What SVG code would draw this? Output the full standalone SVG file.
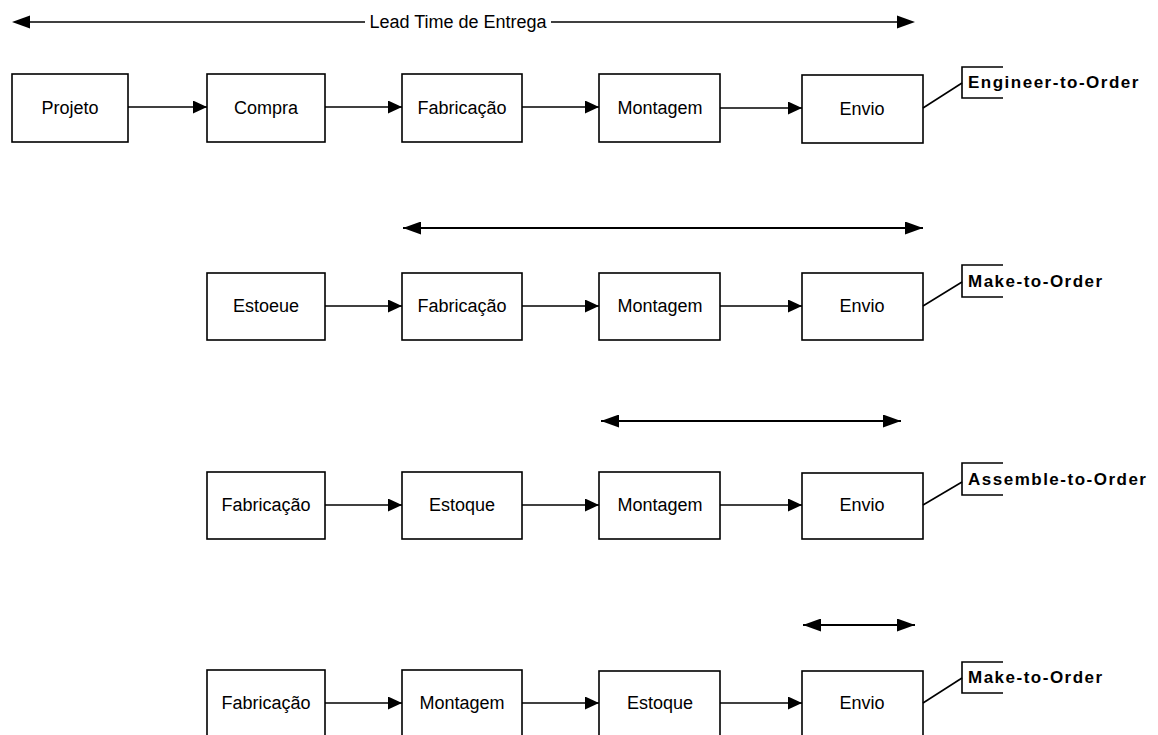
<svg xmlns="http://www.w3.org/2000/svg" width="1158" height="735" viewBox="0 0 1158 735">
  <style>
    .box { fill: #ffffff; stroke: #000000; stroke-width: 1.6; }
    .lbl { font-family: "Liberation Sans", Arial, sans-serif; font-size: 18px; fill: #000000; text-anchor: middle; }
    .tag { font-family: "Liberation Sans", Arial, sans-serif; font-size: 17px; font-weight: bold; letter-spacing: 1.5px; fill: #000000; }
    .ln { fill: none; stroke: #000000; stroke-width: 1.6; }
    .tip { fill: #000000; stroke: none; }
    .flow { fill: none; stroke: #000000; stroke-width: 1.6; marker-end: url(#head); }
    .span { fill: none; stroke: #000000; stroke-width: 1.8; marker-start: url(#bigStart); marker-end: url(#bigEnd); }
  </style>
  <defs>
    <marker id="head" markerUnits="userSpaceOnUse" markerWidth="15" markerHeight="13" refX="14" refY="6.5" orient="auto">
      <path d="M0,0 L14,6.5 L0,13 Z" fill="#000"/>
    </marker>
    <marker id="bigEnd" markerUnits="userSpaceOnUse" markerWidth="19" markerHeight="13" refX="18" refY="6.5" orient="auto">
      <path d="M0,0 L18,6.5 L0,13 Z" fill="#000"/>
    </marker>
    <marker id="bigStart" markerUnits="userSpaceOnUse" markerWidth="19" markerHeight="13" refX="0" refY="6.5" orient="auto">
      <path d="M18,0 L0,6.5 L18,13 Z" fill="#000"/>
    </marker>
  </defs>

  <rect width="1158" height="735" fill="#ffffff"/>

  <!-- lead-time spans -->
  <g id="spans">
    <line class="ln" x1="28" y1="22" x2="365" y2="22"/>
    <path class="tip" d="M12,22 L30,15.5 L30,28.5 Z"/>
    <line class="ln" x1="551" y1="22" x2="899" y2="22"/>
    <path class="tip" d="M915,22 L897,15.5 L897,28.5 Z"/>
    <text class="lbl" x="458" y="28">Lead Time de Entrega</text>
    <line class="span" x1="403" y1="228" x2="923" y2="228"/>
    <line class="span" x1="601" y1="421" x2="901" y2="421"/>
    <line class="span" x1="803" y1="625" x2="915" y2="625"/>
  </g>

  <!-- row 1: Engineer-to-Order -->
  <g id="r1-projeto"><rect class="box" x="12" y="74" width="116" height="68"/><text class="lbl" x="70" y="114">Projeto</text></g>
  <g id="r1-compra"><rect class="box" x="207" y="74" width="118" height="68"/><text class="lbl" x="266" y="114">Compra</text></g>
  <g id="r1-fabricacao"><rect class="box" x="402" y="74" width="120" height="68"/><text class="lbl" x="462" y="114">Fabricação</text></g>
  <g id="r1-montagem"><rect class="box" x="599" y="74" width="121" height="68"/><text class="lbl" x="660" y="114">Montagem</text></g>
  <g id="r1-envio"><rect class="box" x="802" y="75" width="121" height="68"/><text class="lbl" x="862" y="115">Envio</text></g>
  <g id="r1-tag">
    <path class="ln" d="M1003,67 L962,67 L962,98 L1003,98"/>
    <text class="tag" x="968" y="88">Engineer-to-Order</text>
  </g>

  <!-- row 2: Make-to-Order -->
  <g id="r2-estoque"><rect class="box" x="207" y="273" width="118" height="67"/><text class="lbl" x="266" y="312">Estoeue</text></g>
  <g id="r2-fabricacao"><rect class="box" x="402" y="273" width="120" height="67"/><text class="lbl" x="462" y="312">Fabricação</text></g>
  <g id="r2-montagem"><rect class="box" x="599" y="273" width="121" height="67"/><text class="lbl" x="660" y="312">Montagem</text></g>
  <g id="r2-envio"><rect class="box" x="802" y="273" width="121" height="67"/><text class="lbl" x="862" y="312">Envio</text></g>
  <g id="r2-tag">
    <path class="ln" d="M1003,265 L962,265 L962,297 L1003,297"/>
    <text class="tag" x="968" y="287">Make-to-Order</text>
  </g>

  <!-- row 3: Assemble-to-Order -->
  <g id="r3-fabricacao"><rect class="box" x="207" y="472" width="118" height="67"/><text class="lbl" x="266" y="511">Fabricação</text></g>
  <g id="r3-estoque"><rect class="box" x="402" y="472" width="120" height="67"/><text class="lbl" x="462" y="511">Estoque</text></g>
  <g id="r3-montagem"><rect class="box" x="599" y="472" width="121" height="67"/><text class="lbl" x="660" y="511">Montagem</text></g>
  <g id="r3-envio"><rect class="box" x="802" y="473" width="121" height="66"/><text class="lbl" x="862" y="511">Envio</text></g>
  <g id="r3-tag">
    <path class="ln" d="M1003,463 L962,463 L962,495 L1003,495"/>
    <text class="tag" x="968" y="485">Assemble-to-Order</text>
  </g>

  <!-- row 4: Make-to-Order (from stock of assemblies) -->
  <g id="r4-fabricacao"><rect class="box" x="207" y="670" width="118" height="68"/><text class="lbl" x="266" y="709">Fabricação</text></g>
  <g id="r4-montagem"><rect class="box" x="402" y="670" width="120" height="68"/><text class="lbl" x="462" y="709">Montagem</text></g>
  <g id="r4-estoque"><rect class="box" x="599" y="671" width="121" height="68"/><text class="lbl" x="660" y="709">Estoque</text></g>
  <g id="r4-envio"><rect class="box" x="802" y="671" width="121" height="68"/><text class="lbl" x="862" y="709">Envio</text></g>
  <g id="r4-tag">
    <path class="ln" d="M1003,662 L962,662 L962,693 L1003,693"/>
    <text class="tag" x="968" y="683">Make-to-Order</text>
  </g>

  <!-- flow connectors -->
  <g id="connectors">
    <line class="flow" x1="128" y1="107" x2="207" y2="107"/>
    <line class="flow" x1="325" y1="107" x2="402" y2="107"/>
    <line class="flow" x1="522" y1="107" x2="599" y2="107"/>
    <line class="flow" x1="720" y1="108" x2="802" y2="108"/>
    <line class="ln" x1="923" y1="108" x2="962" y2="83"/>

    <line class="flow" x1="325" y1="306" x2="402" y2="306"/>
    <line class="flow" x1="522" y1="306" x2="599" y2="306"/>
    <line class="flow" x1="720" y1="306" x2="802" y2="306"/>
    <line class="ln" x1="923" y1="306" x2="962" y2="282"/>

    <line class="flow" x1="325" y1="505" x2="402" y2="505"/>
    <line class="flow" x1="522" y1="505" x2="599" y2="505"/>
    <line class="flow" x1="720" y1="505" x2="802" y2="505"/>
    <line class="ln" x1="923" y1="505" x2="962" y2="482"/>

    <line class="flow" x1="325" y1="703" x2="402" y2="703"/>
    <line class="flow" x1="522" y1="703" x2="599" y2="703"/>
    <line class="flow" x1="720" y1="703" x2="802" y2="703"/>
    <line class="ln" x1="923" y1="703" x2="962" y2="678"/>
  </g>
</svg>
